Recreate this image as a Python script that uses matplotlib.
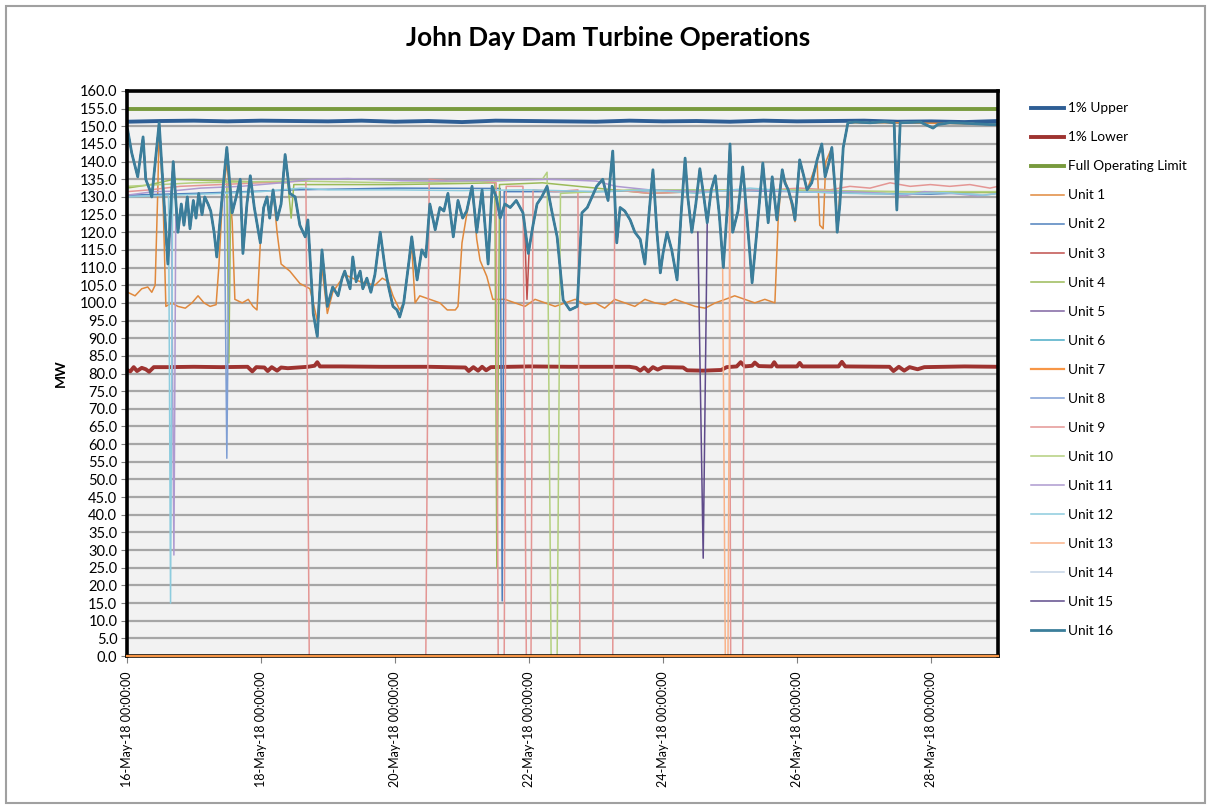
import matplotlib
matplotlib.use("Agg")
import matplotlib.pyplot as plt
import matplotlib.dates as mdates
from matplotlib.patches import Rectangle
import numpy as np
import pandas as pd

# all times are days after 16-May-18 00:00:00
START = pd.Timestamp("2018-05-16")

upper_1pct = [(0.0, 151.3), (0.5, 151.5), (1.0, 151.6), (1.5, 151.4), (2.0, 151.6), (2.5, 151.5),
              (3.0, 151.4), (3.5, 151.6), (4.0, 151.3), (4.5, 151.5), (5.0, 151.2), (5.5, 151.6),
              (6.0, 151.5), (6.5, 151.4), (7.0, 151.3), (7.5, 151.6), (8.0, 151.4), (8.5, 151.5),
              (9.0, 151.3), (9.5, 151.6), (10.0, 151.4), (10.5, 151.5), (11.0, 151.6), (11.5, 151.3),
              (12.0, 151.4), (12.5, 151.2), (13.0, 151.5)]

lower_1pct = [(0.00, 81.0), (0.05, 80.6), (0.10, 81.8), (0.15, 80.7), (0.22, 81.6), (0.28, 81.2),
              (0.33, 80.5), (0.40, 81.8), (0.60, 81.8), (1.00, 81.9), (1.40, 81.8), (1.80, 81.9),
              (1.87, 80.6), (1.93, 81.8), (2.05, 81.7), (2.10, 80.7), (2.16, 81.8), (2.24, 80.8),
              (2.30, 81.7), (2.40, 81.5), (2.70, 81.9), (2.80, 82.2), (2.84, 83.2), (2.88, 82.0),
              (3.20, 82.0), (3.80, 81.9), (4.50, 81.9), (5.05, 81.7), (5.10, 80.7), (5.17, 81.8),
              (5.24, 80.8), (5.30, 81.9), (5.36, 80.9), (5.43, 81.8), (6.00, 82.0), (6.60, 81.9),
              (7.50, 81.9), (7.60, 81.6), (7.66, 80.8), (7.72, 81.7), (7.78, 80.6), (7.85, 81.8),
              (7.92, 81.1), (8.00, 81.8), (8.30, 81.7), (8.36, 80.9), (8.60, 80.8), (8.87, 81.0),
              (8.95, 81.8), (9.10, 82.0), (9.16, 83.2), (9.22, 82.0), (9.33, 82.2), (9.37, 83.1),
              (9.43, 82.1), (9.62, 82.0), (9.66, 83.2), (9.70, 82.0), (10.00, 82.0), (10.04, 83.0),
              (10.08, 82.0), (10.62, 82.0), (10.67, 83.3), (10.72, 82.0), (11.38, 81.9), (11.44, 80.7),
              (11.52, 81.9), (11.60, 80.8), (11.68, 81.8), (11.80, 81.2), (11.90, 81.8), (12.50, 82.0),
              (13.00, 81.9)]

full_limit = [(0.0, 155.0), (13.0, 155.0)]

# load-following path shared by most units (Unit 16 drawn on top)
dispatch = [(0.01, 149), (0.07, 142.5), (0.16, 135.7), (0.24, 147), (0.28, 135), (0.34, 132), (0.37, 130),
            (0.48, 151), (0.61, 111), (0.69, 140), (0.76, 120), (0.81, 128), (0.85, 122), (0.90, 130),
            (0.94, 121), (0.99, 129), (1.03, 124), (1.07, 131), (1.12, 125), (1.16, 130), (1.21, 128),
            (1.25, 126), (1.30, 120), (1.34, 113), (1.42, 130), (1.49, 144), (1.57, 125.5), (1.63, 130),
            (1.69, 135), (1.73, 114), (1.79, 128), (1.84, 136), (1.90, 127), (1.99, 117), (2.04, 127),
            (2.09, 130), (2.13, 124), (2.18, 132), (2.24, 123.5), (2.30, 128), (2.36, 142), (2.43, 131),
            (2.51, 130), (2.58, 122), (2.66, 118.7), (2.70, 123.5), (2.78, 97), (2.84, 90.5), (2.91, 115),
            (2.99, 99), (3.07, 104.5), (3.15, 102), (3.21, 107), (3.25, 109), (3.33, 104), (3.37, 113),
            (3.42, 106), (3.48, 109), (3.52, 104), (3.58, 107), (3.64, 103), (3.70, 108), (3.78, 120),
            (3.85, 110), (3.91, 104), (3.97, 99), (4.03, 98), (4.07, 96), (4.13, 100), (4.21, 112),
            (4.25, 118.7), (4.33, 106.5), (4.40, 115), (4.46, 113), (4.52, 128), (4.60, 120.7), (4.67, 127),
            (4.73, 126), (4.79, 131), (4.87, 118.7), (4.94, 129), (5.01, 124), (5.07, 126), (5.15, 133),
            (5.22, 120), (5.30, 132), (5.39, 111), (5.45, 133), (5.51, 130), (5.57, 124), (5.64, 128),
            (5.72, 127), (5.81, 129), (5.91, 125.5), (5.99, 114), (6.06, 122), (6.12, 128), (6.19, 130),
            (6.27, 133), (6.34, 126), (6.42, 118.7), (6.51, 100.8), (6.61, 98), (6.72, 99), (6.79, 125.5),
            (6.87, 127), (6.94, 130), (7.01, 133), (7.10, 135), (7.18, 129), (7.25, 143), (7.31, 117),
            (7.36, 127), (7.43, 126), (7.51, 123.5), (7.58, 120), (7.66, 118), (7.73, 111), (7.79, 125),
            (7.85, 137.7), (7.91, 120), (7.96, 108.5), (8.00, 114), (8.06, 120), (8.13, 115), (8.21, 106.5),
            (8.27, 125), (8.33, 141), (8.37, 130), (8.43, 120), (8.49, 128), (8.55, 138), (8.61, 130),
            (8.66, 122.7), (8.72, 132), (8.78, 136), (8.84, 125), (8.90, 110), (8.96, 127), (9.00, 145),
            (9.04, 120), (9.12, 126), (9.19, 138.5), (9.25, 125), (9.33, 105.7), (9.40, 120), (9.49, 139.6),
            (9.57, 122.7), (9.63, 135.7), (9.70, 123.5), (9.78, 137.7), (9.82, 134), (9.87, 132), (9.93, 128),
            (9.97, 123.5), (10.04, 140.5), (10.10, 136), (10.15, 132), (10.22, 134), (10.30, 140.5),
            (10.37, 145), (10.42, 135.7), (10.48, 140), (10.52, 144), (10.57, 132), (10.60, 120), (10.64, 128),
            (10.69, 144), (10.76, 151), (10.87, 151.2), (11.09, 151), (11.31, 151.3), (11.45, 151),
            (11.49, 126.3), (11.54, 151), (11.84, 151.2), (12.03, 149.5), (12.10, 150.5), (12.28, 151),
            (12.58, 150.8), (12.88, 150.5), (13.00, 150.5)]

unit1 = [(0.01, 103), (0.12, 102), (0.22, 104), (0.31, 104.5), (0.37, 103), (0.42, 105), (0.46, 132),
         (0.48, 150), (0.54, 128), (0.58, 99), (0.67, 100), (0.76, 99), (0.87, 98.5), (0.97, 100),
         (1.06, 102), (1.15, 100), (1.24, 99), (1.33, 99.5), (1.37, 110), (1.42, 128), (1.49, 140),
         (1.57, 123), (1.61, 101), (1.72, 100), (1.81, 101), (1.88, 99), (1.94, 98), (1.99, 117),
         (2.04, 127), (2.09, 130), (2.13, 124), (2.18, 132), (2.24, 120), (2.30, 111), (2.43, 109),
         (2.58, 105.5), (2.73, 104), (2.78, 100), (2.84, 95), (2.91, 110), (2.99, 97), (3.07, 103),
         (3.25, 108), (3.48, 106), (3.70, 105), (3.81, 107), (3.90, 106), (3.97, 102), (4.07, 98),
         (4.13, 100), (4.21, 112), (4.25, 116), (4.30, 100), (4.37, 102), (4.52, 101), (4.67, 100),
         (4.78, 98), (4.90, 98), (4.94, 99), (5.00, 117), (5.07, 125), (5.15, 133), (5.22, 118),
         (5.27, 112), (5.37, 107.5), (5.46, 101), (5.64, 101), (5.79, 100), (5.94, 99), (6.09, 101),
         (6.24, 100), (6.39, 99), (6.54, 100), (6.69, 101), (6.84, 99.5), (6.99, 100), (7.13, 98.5),
         (7.28, 101), (7.43, 100), (7.58, 99), (7.73, 101), (7.88, 100), (8.03, 99.5), (8.18, 101),
         (8.33, 100), (8.48, 99), (8.63, 98.5), (8.78, 100), (8.93, 101), (9.07, 102), (9.22, 101),
         (9.37, 100), (9.52, 101), (9.67, 100), (9.72, 124), (9.78, 137), (9.87, 132), (9.97, 123),
         (10.04, 140), (10.15, 132), (10.30, 140), (10.34, 122), (10.39, 121), (10.43, 140), (10.52, 144),
         (10.60, 121), (10.69, 144), (10.76, 151), (11.54, 151), (12.28, 150.8), (13.00, 150.5)]

unit2 = [(0.00, 130.5), (1.00, 131), (2.50, 132), (4.00, 132.5), (5.57, 132.4), (5.60, 15.6),
         (5.63, 131.5), (7.00, 131.5), (8.50, 132), (10.00, 131.5), (11.00, 131), (12.00, 130.8),
         (13.00, 131.5)]

unit4 = [(0.00, 132.5), (0.35, 133.5), (0.70, 135), (1.49, 134.5), (1.52, 83), (1.55, 134.5),
         (2.40, 134), (2.45, 124), (2.49, 133.5), (3.00, 133.5), (4.00, 133.5), (5.00, 133.8),
         (5.49, 134), (5.52, 25), (5.56, 133.5), (6.20, 134), (7.00, 132.5), (7.80, 131), (8.50, 131.5),
         (9.50, 132), (10.50, 131.5), (11.50, 131.5), (13.00, 131.2)]

unit7 = [(0.0, 0.0), (13.0, 0.0)]

unit9 = [(0.00, 131.5), (0.34, 132), (0.79, 133), (1.39, 133.5), (1.99, 134), (2.67, 134.5), (2.72, 0),
         (4.46, 0), (4.51, 135), (4.82, 134.5), (5.27, 134.5), (5.51, 134), (5.54, 0), (5.63, 0),
         (5.66, 133), (5.91, 133), (5.96, 0), (6.03, 0), (6.06, 132), (6.39, 131.5), (6.73, 132),
         (6.76, 0), (7.25, 0), (7.28, 132), (7.81, 131), (8.55, 131.5), (8.99, 132), (9.01, 0),
         (9.19, 0), (9.22, 132), (9.60, 132), (10.04, 132.5), (10.49, 132), (10.79, 133), (11.09, 132.5),
         (11.39, 134), (11.69, 133), (11.99, 133.5), (12.28, 133), (12.58, 133.5), (12.88, 132.5),
         (13.00, 133)]

unit10 = [(0.00, 133), (1.00, 134), (2.50, 134.5), (4.00, 134), (5.50, 134.5), (6.20, 135), (6.27, 137),
          (6.33, 0), (6.42, 0), (6.47, 131), (7.50, 132), (8.50, 132), (10.00, 132), (11.50, 131.5),
          (13.00, 131.5)]

unit11 = [(0.00, 130.5), (0.40, 131.5), (0.66, 131.6), (0.70, 28.6), (0.73, 131.8), (1.10, 132.5),
          (1.70, 133), (2.30, 134), (2.75, 135), (3.30, 135.2), (4.10, 134.6), (4.80, 134.5),
          (5.60, 134.7), (6.30, 135), (7.00, 134.5), (7.30, 133), (7.80, 132), (8.50, 131.5), (9.30, 132),
          (10.00, 131.5), (10.80, 131.5), (11.30, 131), (11.60, 130.3), (11.90, 131.5), (12.30, 131),
          (12.70, 130.3), (13.00, 131)]

unit12 = [(0.00, 130), (0.62, 130.5), (0.65, 15), (0.68, 130.5), (1.40, 131), (2.00, 131.5),
          (2.60, 132.5), (3.00, 132), (4.00, 132), (5.00, 131.8), (6.00, 132), (7.00, 131.5), (7.80, 132),
          (8.50, 131), (9.30, 132.5), (10.00, 131.5), (10.80, 131), (11.50, 130.8), (12.20, 131.2),
          (12.80, 130.5), (13.00, 131)]

# short excursions of dispatch-following units away from the shared path
spike3 = [(5.93, 124), (5.97, 101), (6.00, 114)]
spike8 = [(1.45, 136), (1.49, 56), (1.53, 132)]
spike13 = [(8.89, 111), (8.93, 0), (8.97, 0), (9.00, 127)]
spike15 = [(8.52, 120), (8.60, 27.7), (8.66, 122.7)]

tick_days = [0, 2, 4, 6, 8, 10, 12]

colors = {
    "1% Upper": "#2E5E95", "1% Lower": "#9E3330", "Full Operating Limit": "#789A3D",
    "Unit 1": "#E0893D", "Unit 2": "#4F81BD", "Unit 3": "#C0504D", "Unit 4": "#9BBB59",
    "Unit 5": "#8064A2", "Unit 6": "#4BACC6", "Unit 7": "#F79646", "Unit 8": "#7E9ED4",
    "Unit 9": "#E49694", "Unit 10": "#B4D07F", "Unit 11": "#AE9AD0", "Unit 12": "#8DCCDE",
    "Unit 13": "#F9B38A", "Unit 14": "#C4D3E6", "Unit 15": "#5F4B8B", "Unit 16": "#3B7E9B",
}

series = [
    ("1% Upper", upper_1pct, None), ("1% Lower", lower_1pct, None),
    ("Full Operating Limit", full_limit, None),
    ("Unit 1", unit1, None), ("Unit 2", unit2, None), ("Unit 3", dispatch, spike3),
    ("Unit 4", unit4, None), ("Unit 5", dispatch, None), ("Unit 6", dispatch, None),
    ("Unit 7", unit7, None), ("Unit 8", dispatch, spike8), ("Unit 9", unit9, None),
    ("Unit 10", unit10, None), ("Unit 11", unit11, None), ("Unit 12", unit12, None),
    ("Unit 13", dispatch, spike13), ("Unit 14", dispatch, None), ("Unit 15", dispatch, spike15),
    ("Unit 16", dispatch, None),
]


def to_time(days):
    return START + pd.to_timedelta(np.asarray(days, dtype=float), unit="D")


def xy(points):
    d, v = zip(*points)
    return to_time(d), np.array(v, dtype=float)


plt.rcParams["font.family"] = ["Lato", "DejaVu Sans"]

fig = plt.figure(figsize=(12.07, 8.09), dpi=100)
ax = fig.add_axes([127 / 1207, 1 - 656 / 809, (998 - 127) / 1207, (656 - 91) / 809])
ax.set_facecolor("#F2F2F2")

thick = {"1% Upper", "1% Lower", "Full Operating Limit"}
for name, pts, spike in series:
    t, v = xy(pts)
    lw = 2.8 if name in thick else (2.0 if name == "Unit 16" else 1.1)
    kw = {}
    if name == "Unit 7":
        # out of service all period: sits on the x axis
        kw = dict(clip_on=False, zorder=3, lw=1.6)
    ax.plot(t, v, color=colors[name], **{"lw": lw, **kw}, label=name, solid_joinstyle="round")
    if spike is not None:
        ts, vs = xy(spike)
        ax.plot(ts, vs, color=colors[name], lw=1.1)

ax.set_ylim(0, 160)
ax.set_yticks(np.arange(0, 161, 5))
ax.yaxis.set_major_formatter(matplotlib.ticker.FormatStrFormatter("%.1f"))
ax.set_xlim(START, START + pd.Timedelta(days=13))
ax.set_xticks(to_time(tick_days))
ax.xaxis.set_major_formatter(mdates.DateFormatter("%d-%b-%y %H:%M:%S"))
ax.grid(axis="y", color="#A6A6A6", lw=1.6, zorder=0)
ax.set_axisbelow(True)
for s in ax.spines.values():
    s.set_linewidth(2.6)
    s.set_color("black")
ax.tick_params(axis="y", labelsize=10.5, length=4, color="#808080", pad=3)
ax.tick_params(axis="x", labelsize=9, length=5, color="#808080", pad=6, labelrotation=90)
for lab in ax.get_xticklabels():
    lab.set_verticalalignment("top")
ax.set_ylabel("MW", fontsize=10, fontweight="bold", labelpad=9)

fig.text(0.5035, 1 - 38 / 809, "John Day Dam Turbine Operations", ha="center", va="center",
         fontsize=18.8, fontweight="bold", family="Lato")

handles, labels = ax.get_legend_handles_labels()
fig.legend(handles, labels, loc="upper left",
           bbox_to_anchor=(1026 / 1207, 1 - 97 / 809), frameon=False, fontsize=9.8,
           handlelength=2.4, handletextpad=0.3, labelspacing=1.25, borderaxespad=0)

# page frame around the chart
fig.patches.append(Rectangle((6 / 1207, 1 - 803 / 809), 1199 / 1207, 797 / 809,
                             transform=fig.transFigure, fill=False, edgecolor="#A0A0A0", lw=1.5))

fig.savefig("out.png", dpi=100)
